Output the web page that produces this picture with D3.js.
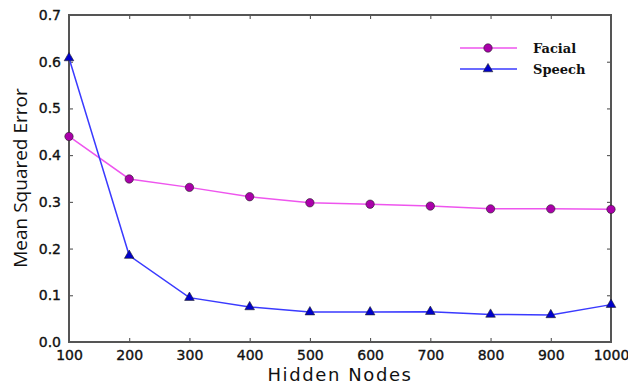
<!DOCTYPE html>
<html>
<head>
<meta charset="utf-8">
<script src="https://cdn.jsdelivr.net/npm/d3@7"></script>
<style>
	body { margin: 0; background: #fff; }
	.tick text { font-family: "DejaVu Sans", sans-serif; font-size: 14px; fill: #111; stroke: #111; stroke-width: 0.35; }
</style>
</head>
<body>
<svg id="chart" width="628" height="385"></svg>
<script>
let nodes = [100, 200, 300, 400, 500, 600, 700, 800, 900, 1000];
let facial = [0.44, 0.349, 0.331, 0.311, 0.298, 0.295, 0.291, 0.285, 0.285, 0.284];
let speech = [0.608, 0.185, 0.095, 0.075, 0.064, 0.064, 0.065, 0.059, 0.058, 0.080];
let yTicks = [0.0, 0.1, 0.2, 0.3, 0.4, 0.5, 0.6, 0.7];

let svg = d3.select("#chart");
let margin = { top: 15, right: 17, bottom: 43, left: 69 };
let width = 628 - margin.left - margin.right;
let height = 385 - margin.top - margin.bottom;

let x = d3.scaleLinear().domain([100, 1000]).range([0, width]);
let y = d3.scaleLinear().domain([0, 0.7]).range([height, 0]);

let g = svg.append("g")
	.attr("transform", "translate(" + margin.left + "," + margin.top + ")");

// inward ticks on all four sides, matplotlib style
let tickLen = -4;
g.append("g")
	.attr("transform", "translate(0," + height + ")")
	.call(d3.axisBottom(x).tickValues(nodes).tickSize(tickLen).tickPadding(8).tickFormat(d3.format("d")));
g.append("g")
	.call(d3.axisLeft(y).tickValues(yTicks).tickSize(tickLen).tickPadding(8).tickFormat(d3.format(".1f")));
g.append("g")
	.call(d3.axisTop(x).tickValues(nodes).tickSize(tickLen).tickFormat(""));
g.append("g")
	.attr("transform", "translate(" + width + ",0)")
	.call(d3.axisRight(y).tickValues(yTicks).tickSize(tickLen).tickFormat(""));

g.selectAll(".domain").remove();
g.selectAll(".tick line").attr("stroke", "#444").attr("stroke-width", 1);

g.append("rect")
	.attr("width", width)
	.attr("height", height)
	.attr("fill", "none")
	.attr("stroke", "#555")
	.attr("stroke-width", 2);

let line = d3.line()
	.x(function (d, i) { return x(nodes[i]); })
	.y(function (d) { return y(d); });

let series = [
	{ name: "Facial", values: facial, lineColor: "#ee55ee", fill: "#aa00aa", shape: d3.symbolCircle, size: 55 },
	{ name: "Speech", values: speech, lineColor: "#3a3aff", fill: "#0000cc", shape: d3.symbolTriangle, size: 40 }
];

let plot = g.append("g");
series.forEach(function (s) {
	plot.append("path")
		.datum(s.values)
		.attr("fill", "none")
		.attr("stroke", s.lineColor)
		.attr("stroke-width", 1.5)
		.attr("d", line);
	plot.selectAll(null)
		.data(s.values)
		.enter()
		.append("path")
		.attr("d", d3.symbol().type(s.shape).size(s.size))
		.attr("transform", function (d, i) { return "translate(" + x(nodes[i]) + "," + y(d) + ")"; })
		.attr("fill", s.fill)
		.attr("stroke", "#222")
		.attr("stroke-width", 0.6);
});

// legend
let legend = g.append("g").attr("transform", "translate(391,33)");
series.forEach(function (s, i) {
	let row = legend.append("g").attr("transform", "translate(0," + (i * 21) + ")");
	row.append("line")
		.attr("x1", 0).attr("x2", 57)
		.attr("stroke", s.lineColor)
		.attr("stroke-width", 1.5);
	row.append("path")
		.attr("d", d3.symbol().type(s.shape).size(s.size))
		.attr("transform", "translate(28,0)")
		.attr("fill", s.fill)
		.attr("stroke", "#222")
		.attr("stroke-width", 0.6);
	row.append("text")
		.attr("x", 73)
		.attr("y", 5)
		.attr("font-family", "DejaVu Serif, serif")
		.attr("font-weight", "bold")
		.attr("font-size", 13)
		.attr("fill", "#111")
		.text(s.name);
});

svg.append("text")
	.attr("x", margin.left + width / 2)
	.attr("y", 381)
	.attr("text-anchor", "middle")
	.attr("font-family", "DejaVu Sans, sans-serif")
	.attr("font-size", 18)
	.attr("letter-spacing", 1.6)
	.attr("fill", "#111")
	.text("Hidden Nodes");

svg.append("text")
	.attr("transform", "translate(27,178) rotate(-90)")
	.attr("text-anchor", "middle")
	.attr("font-family", "Open Sans, sans-serif")
	.attr("font-size", 19)
	.attr("fill", "#111")
	.text("Mean Squared Error");
</script>
</body>
</html>
